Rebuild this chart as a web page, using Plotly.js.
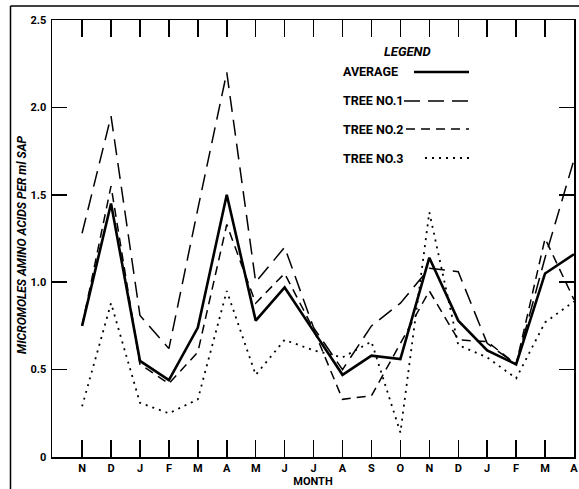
<!DOCTYPE html>
<html>
<head>
<meta charset="utf-8">
<script src="https://cdn.plot.ly/plotly-3.0.1.min.js"></script>
<style>html,body{margin:0;padding:0;background:#fff;}#chart{width:579px;height:489px;}</style>
</head>
<body>
<div id="chart"></div>
<script>
// ---- data ----
const months = ['N','D','J','F','M','A','M','J','J','A','S','O','N','D','J','F','M','A'];
const average = [0.75,1.45,0.55,0.44,0.74,1.50,0.78,0.97,0.72,0.47,0.58,0.56,1.14,0.78,0.61,0.53,1.05,1.16];
const tree1   = [1.28,1.95,0.81,0.62,1.42,2.20,1.00,1.20,0.74,0.50,0.75,0.88,1.08,1.06,0.65,0.53,1.14,1.70];
const tree2   = [0.75,1.55,0.53,0.42,0.60,1.33,0.88,1.05,0.73,0.33,0.35,0.65,0.95,0.67,0.66,0.53,1.25,0.90];
const tree3   = [0.29,0.88,0.31,0.25,0.33,0.95,0.47,0.67,0.61,0.57,0.66,0.14,1.40,0.64,0.57,0.45,0.77,0.89];
const yTicks = [0,0.5,1.0,1.5,2.0,2.5];
const yTickText = ['0','0.5','1.0','1.5','2.0','2.5'];
const legendNames = ['AVERAGE','TREE NO.1','TREE NO.2','TREE NO.3'];

const xIdx = months.map((m,i)=>i);
const FONT = 'Roboto,"DejaVu Sans",sans-serif';

// plot geometry helpers (pixels -> paper)
const L=52, R=5, T=20, B=32, W=579, H=489;
const pw = W-L-R, ph = H-T-B;
const px = x => (x-L)/pw;
const py = y => (H-B-y)/ph;

const styles = [
  {width:2.6, dash:'solid'},
  {width:1.5, dash:'16px,8px'},
  {width:1.5, dash:'9px,6px'},
  {width:1.8, dash:'2px,5px'}
];
const series = [average, tree1, tree2, tree3];

const traces = series.map((s,k)=>({
  x: xIdx, y: s, type:'scatter', mode:'lines', name: legendNames[k],
  line:{color:'#000', width:styles[k].width, dash:styles[k].dash},
  showlegend:false, hoverinfo:'skip'
}));

// legend (drawn as annotations + key lines)
const legRows = [72,101,129,158];
const legTextX = 341;
const keyX0 = [414,404,406,425];
const keyX1 = 469;
const annotations = [
  {text:'<b><i>LEGEND</i></b>', x:px(407), y:py(51), xref:'paper', yref:'paper', showarrow:false,
   font:{family:FONT, size:13, color:'#000'}, xanchor:'center', yanchor:'middle'},
  {text:'<b><i>MICROMOLES AMINO ACIDS PER ml SAP</i></b>', x:px(22), y:py(245), xref:'paper', yref:'paper',
   showarrow:false, textangle:-90, xanchor:'center', yanchor:'middle', font:{family:FONT, size:12, color:'#000'}}
];
const shapes = [
  // outer frame (left + top)
  {type:'line', xref:'paper', yref:'paper', x0:px(10.5), x1:px(10.5), y0:py(6), y1:py(495), line:{color:'#000', width:1.5}},
  {type:'line', xref:'paper', yref:'paper', x0:px(10.5), x1:px(585), y0:py(6), y1:py(6), line:{color:'#000', width:1.5}}
];
legendNames.forEach((n,k)=>{
  annotations.push({text:'<b>'+n+'</b>', x:px(legTextX), y:py(legRows[k]), xref:'paper', yref:'paper',
    showarrow:false, xanchor:'left', yanchor:'middle', font:{family:FONT, size:12.5, color:'#000'}});
  shapes.push({type:'line', xref:'paper', yref:'paper', x0:px(keyX0[k]), x1:px(keyX1), y0:py(legRows[k]), y1:py(legRows[k]),
    line:{color:'#000', width:styles[k].width, dash:styles[k].dash}});
});

const layout = {
  width:W, height:H,
  margin:{l:L, r:R, t:T, b:B, pad:0},
  paper_bgcolor:'#fff', plot_bgcolor:'#fff',
  font:{family:FONT, color:'#000'},
  xaxis:{
    range:[-1.04,17], tickvals:xIdx, ticktext:months, ticks:'inside', ticklen:17, tickwidth:1.5, tickcolor:'#000',
    showline:true, linecolor:'#000', linewidth:1.5, mirror:'ticks', showgrid:false, zeroline:false,
    tickfont:{family:FONT, size:11, color:'#000', weight:'bold'},
    title:{text:'<b>MONTH</b>', font:{family:FONT, size:11, color:'#000'}, standoff:1},
    automargin:false, fixedrange:true
  },
  yaxis:{
    range:[0,2.5], tickvals:yTicks, ticktext:yTickText, ticks:'inside', ticklen:15, tickwidth:1.5, tickcolor:'#000',
    showline:true, linecolor:'#000', linewidth:1.5, mirror:'ticks', showgrid:false, zeroline:false,
    tickfont:{family:FONT, size:11, color:'#000', weight:'bold'}, ticklabelstandoff:2,
    automargin:false, fixedrange:true
  },
  annotations: annotations,
  shapes: shapes,
  showlegend:false
};

Plotly.newPlot('chart', traces, layout, {displayModeBar:false, staticPlot:true});
</script>
</body>
</html>
